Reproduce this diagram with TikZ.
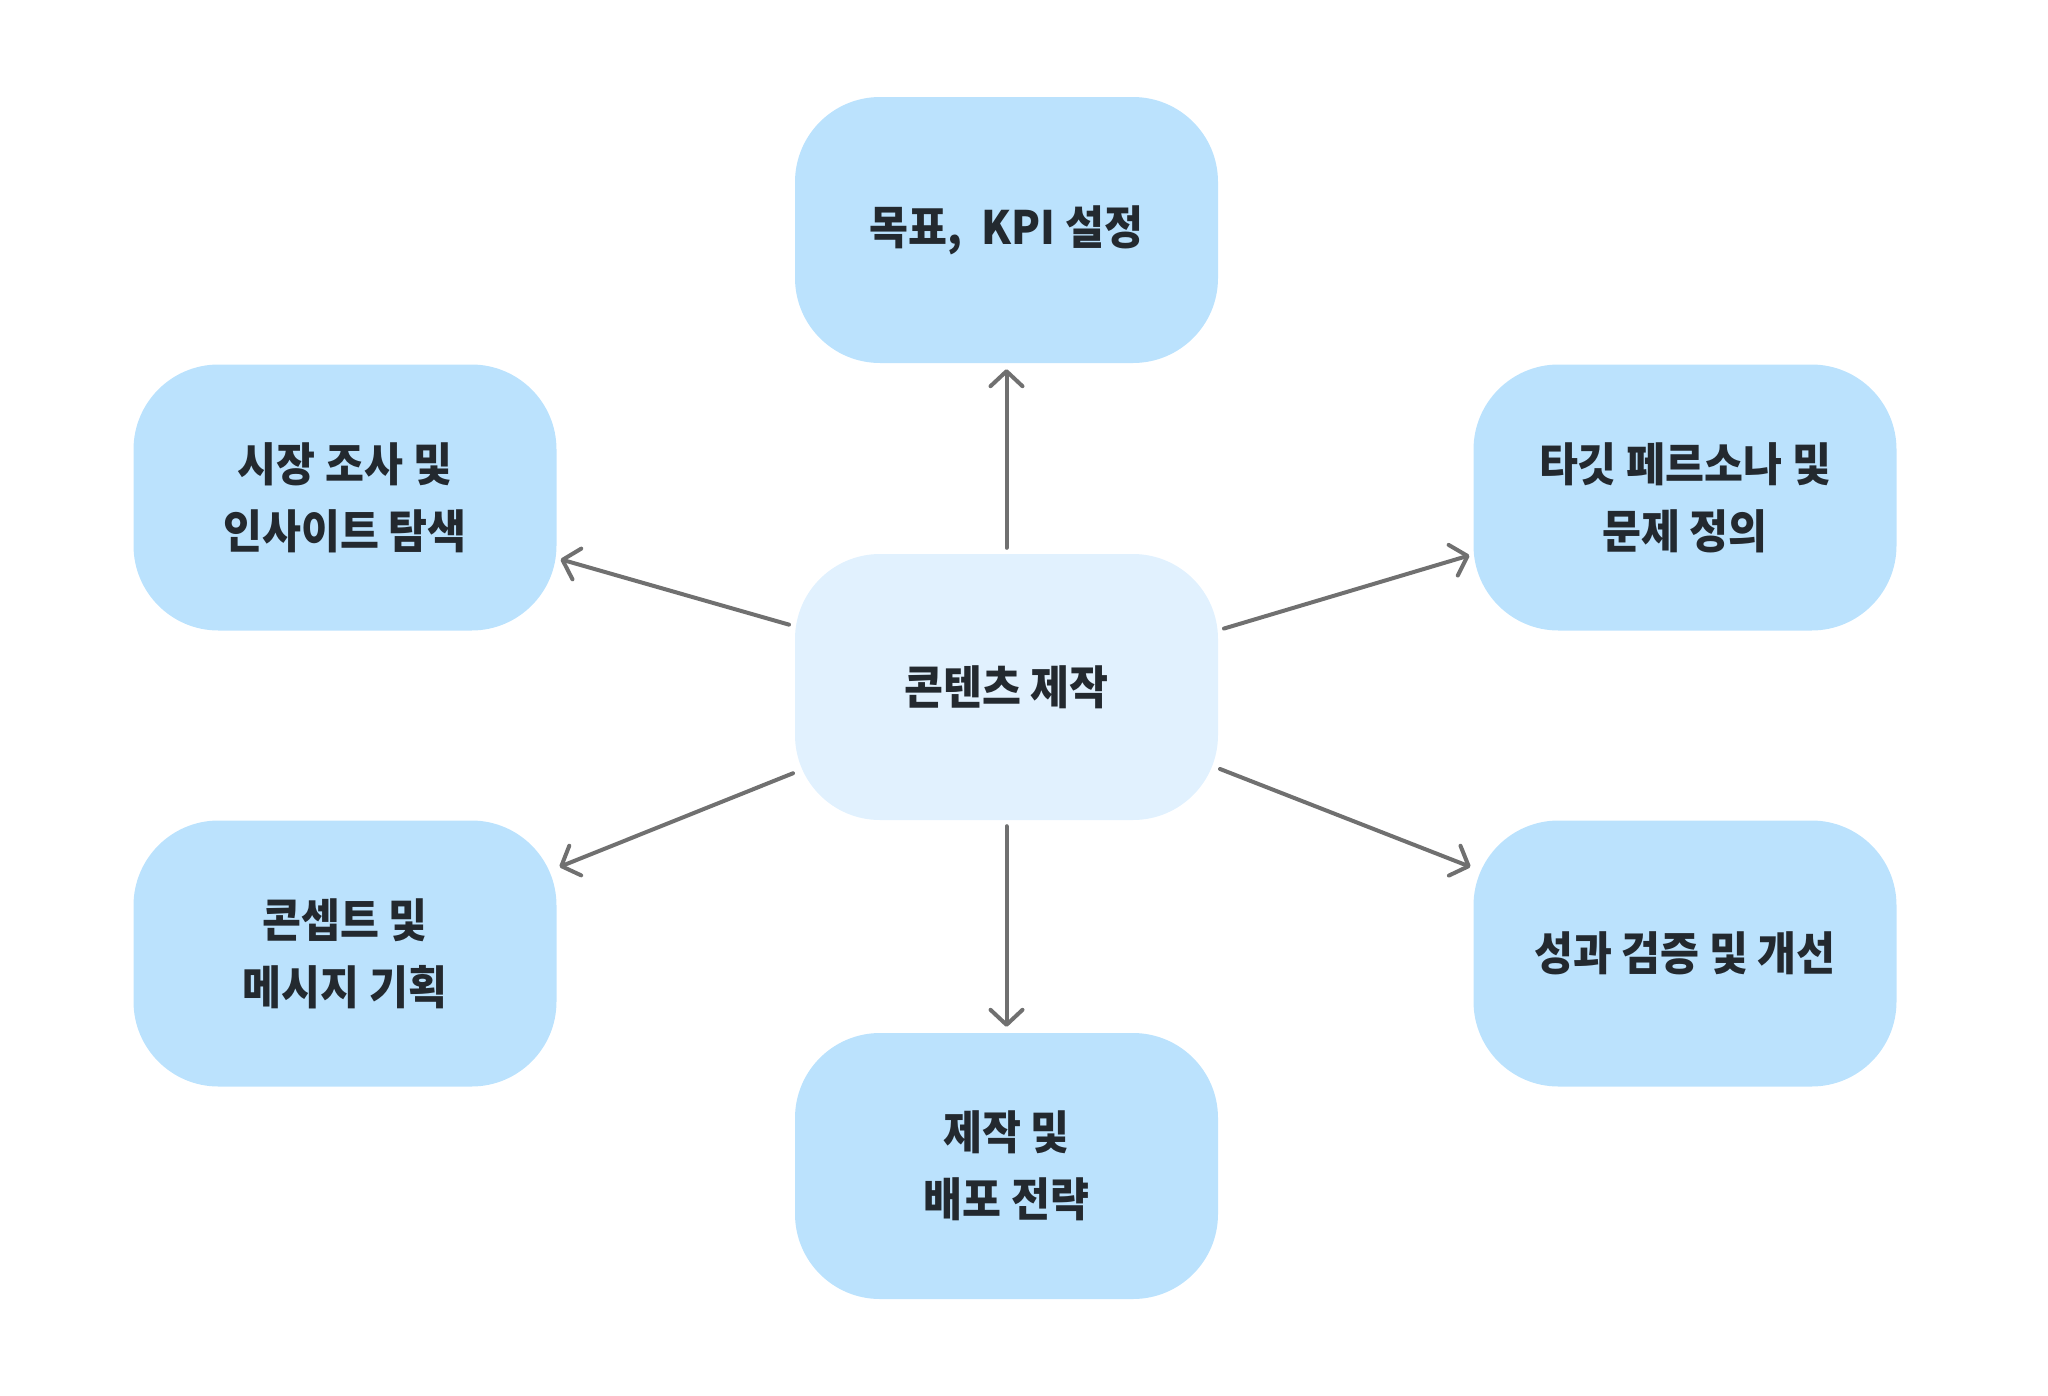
\documentclass[tikz,border=0pt]{standalone}
\usepackage{fontspec}
\setmainfont{Noto Sans CJK KR}[FakeStretch=0.92]
\usetikzlibrary{arrows.meta}
\definecolor{boxblue}{HTML}{BBE2FD}
\definecolor{centerblue}{HTML}{E1F1FE}
\definecolor{txt}{HTML}{23292F}
\definecolor{arr}{HTML}{707070}
\begin{document}
\begin{tikzpicture}[x=1pt,y=-1pt,
  box/.style={fill=boxblue, draw=none, rounded corners=85pt, minimum width=423pt, minimum height=266pt,
    align=center, text=txt, font=\fontsize{46}{67}\selectfont\bfseries, inner sep=0pt},
  hub/.style={box, fill=centerblue},
  conn/.style={draw=arr, line width=4pt, line cap=round,
    -{Straight Barb[length=15pt, width=32pt, line width=4pt, round]}}]
\useasboundingbox (0,0) rectangle (2048,1395);
\node[hub] (c) at (1006.5,687) {콘텐츠 제작};
\node[box] (top) at (1006.5,230) {목표,\ \ KPI 설정};
\node[box] (lu) at (345,497.5) {시장 조사 및\\인사이트 탐색};
\node[box] (ru) at (1685,497.5) {타깃 페르소나 및\\문제 정의};
\node[box] (ll) at (345,953.5) {콘셉트 및\\메시지 기획};
\node[box] (rl) at (1685,953.5) {성과 검증 및 개선};
\node[box] (bot) at (1006.5,1166) {제작 및\\배포 전략};
\draw[conn, shorten <=6pt, shorten >=6pt] (c.north) -- (top.south);
\draw[conn, shorten <=6pt, shorten >=6pt] (c.south) -- (bot.north);
\draw[conn, shorten <=6pt, shorten >=4pt] (c.164) -- (lu.-16);
\draw[conn, shorten <=6pt, shorten >=4pt] (c.15.5) -- (ru.195.5);
\draw[conn, shorten <=2pt, shorten >=3pt] (c.202) -- (ll.22);
\draw[conn, shorten <=2pt, shorten >=3pt] (c.-21.5) -- (rl.158.5);
\end{tikzpicture}
\end{document}
